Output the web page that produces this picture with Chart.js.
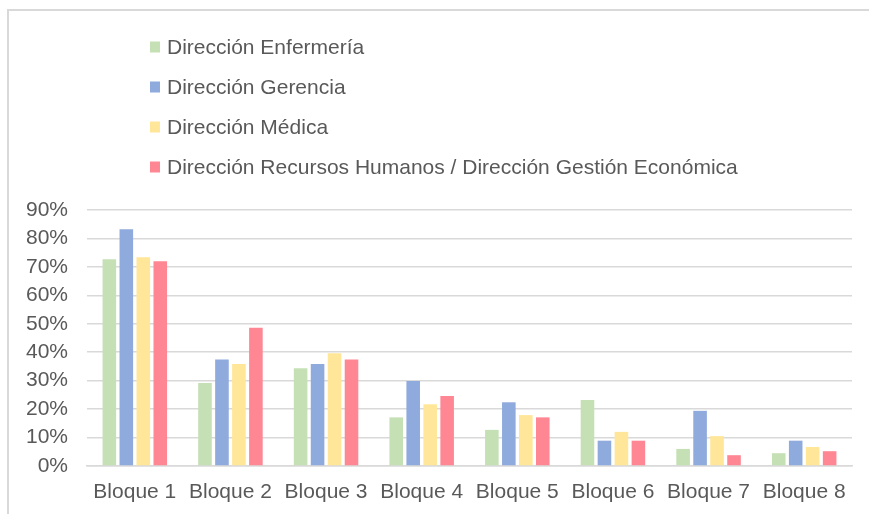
<!DOCTYPE html>
<html>
<head>
<meta charset="utf-8">
<script src="https://cdn.jsdelivr.net/npm/chart.js@4"></script>
<style>
  html, body { margin: 0; padding: 0; background: #fff; overflow: hidden; }
  #wrap { position: relative; width: 869px; height: 514px; }
  #frame { position: absolute; left: 7px; top: 9px; width: 900px; height: 600px; border: 2px solid #d9d9d9; box-sizing: border-box; }
  #chart { position: absolute; left: 0; top: 0; }
</style>
</head>
<body>
<div id="wrap">
  <div id="frame"></div>
  <canvas id="chart" width="869" height="514"></canvas>
</div>
<script>
// --- Data (percent)
const categories = ["Bloque 1", "Bloque 2", "Bloque 3", "Bloque 4", "Bloque 5", "Bloque 6", "Bloque 7", "Bloque 8"];
const seriesNames = [
  "Dirección Enfermería",
  "Dirección Gerencia",
  "Dirección Médica",
  "Dirección Recursos Humanos / Dirección Gestión Económica"
];
const enfermeria = [72.7, 29.2, 34.4, 17.1, 12.7, 23.2, 6.0, 4.5];
const gerencia   = [83.2, 37.4, 35.9, 29.9, 22.4, 8.9, 19.4, 8.9];
const medica     = [73.4, 35.9, 39.6, 21.7, 17.9, 12.0, 10.5, 6.7];
const rrhh       = [72.0, 48.6, 37.4, 24.6, 17.1, 8.9, 3.8, 5.2];
const yTicks = [0, 10, 20, 30, 40, 50, 60, 70, 80, 90];

const colors = ["#C5E0B4", "#8FAADC", "#FFE699", "#FF8793"];
const FONT = '"Liberation Sans", Arial, sans-serif';
const TEXT = "#595959";

// legend drawn as a vertical list above the plot (Chart.js legend would wrap into rows)
const stackedLegend = {
  id: "stackedLegend",
  afterDraw(chart, args, opts) {
    const ctx = chart.ctx;
    ctx.save();
    ctx.font = `21px ${FONT}`;
    ctx.textBaseline = "middle";
    chart.data.datasets.forEach((ds, i) => {
      const y = opts.top + i * opts.rowGap;
      ctx.fillStyle = ds.backgroundColor;
      ctx.fillRect(opts.left, y - 5.5, 10, 11);
      ctx.fillStyle = TEXT;
      ctx.fillText(ds.label, opts.left + 17, y + 1);
    });
    ctx.restore();
  }
};

const allSeries = [enfermeria, gerencia, medica, rrhh];

new Chart(document.getElementById("chart"), {
  type: "bar",
  data: {
    labels: categories,
    datasets: allSeries.map((vals, i) => ({
      label: seriesNames[i],
      data: vals,
      backgroundColor: colors[i],
      borderWidth: 0,
      categoryPercentage: 0.71,
      barPercentage: 0.8
    }))
  },
  options: {
    responsive: false,
    animation: false,
    layout: { padding: { top: 210, right: 17, bottom: 0, left: 0 } },
    plugins: {
      legend: { display: false },
      tooltip: { enabled: false },
      stackedLegend: { left: 150, top: 47, rowGap: 40 }
    },
    scales: {
      x: {
        afterFit: (scale) => { scale.height = 48; },
        grid: { display: false, drawTicks: false },
        border: { display: true, color: "#d9d9d9", width: 1.5 },
        ticks: { color: TEXT, font: { family: FONT, size: 21 }, padding: 14, maxRotation: 0 }
      },
      y: {
        min: 0,
        max: 90,
        afterBuildTicks: (scale) => { scale.ticks = yTicks.map(v => ({ value: v })); },
        afterFit: (scale) => { scale.width = 87; },
        grid: { color: "#d9d9d9", lineWidth: 1.5, drawTicks: false },
        border: { display: false },
        ticks: {
          color: TEXT,
          font: { family: FONT, size: 21 },
          padding: 19,
          autoSkip: false,
          callback: v => v + "%"
        }
      }
    }
  },
  plugins: [stackedLegend]
});
</script>
</body>
</html>
